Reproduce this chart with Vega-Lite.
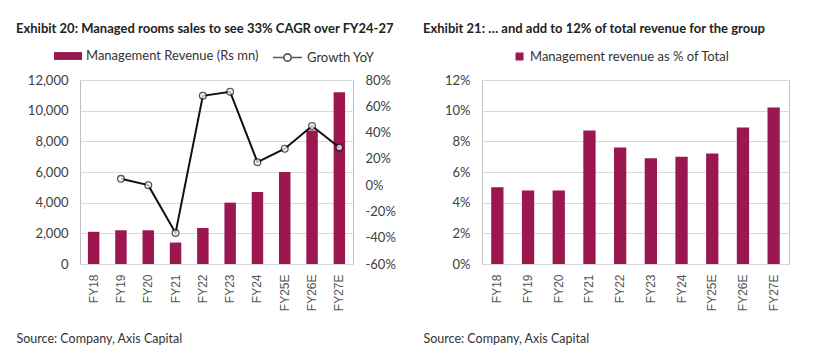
{
  "$schema": "https://vega.github.io/schema/vega-lite/v6.json",
  "background": "white",
  "padding": {"left": 15, "top": 22, "right": 5, "bottom": 5},
  "bounds": "flush",
  "spacing": 129,
  "datasets": {
    "rev": [
      {"FY": "FY18", "Revenue": 2100, "Growth": null},
      {"FY": "FY19", "Revenue": 2200, "Growth": 4.8},
      {"FY": "FY20", "Revenue": 2200, "Growth": 0},
      {"FY": "FY21", "Revenue": 1400, "Growth": -36.4},
      {"FY": "FY22", "Revenue": 2350, "Growth": 68},
      {"FY": "FY23", "Revenue": 4000, "Growth": 71},
      {"FY": "FY24", "Revenue": 4700, "Growth": 17.5},
      {"FY": "FY25E", "Revenue": 6000, "Growth": 27.7},
      {"FY": "FY26E", "Revenue": 8700, "Growth": 45},
      {"FY": "FY27E", "Revenue": 11200, "Growth": 28.7}
    ],
    "pct": [
      {"FY": "FY18", "Share": 5.0},
      {"FY": "FY19", "Share": 4.8},
      {"FY": "FY20", "Share": 4.8},
      {"FY": "FY21", "Share": 8.7},
      {"FY": "FY22", "Share": 7.6},
      {"FY": "FY23", "Share": 6.9},
      {"FY": "FY24", "Share": 7.0},
      {"FY": "FY25E", "Share": 7.2},
      {"FY": "FY26E", "Share": 8.9},
      {"FY": "FY27E", "Share": 10.2}
    ]
  },
  "resolve": {"scale": {"fill": "independent", "stroke": "independent"}, "legend": {"fill": "independent", "stroke": "independent"}},
  "hconcat": [
    {
      "width": 273,
      "height": 184,
      "title": {"text": "Exhibit 20: Managed rooms sales to see 33% CAGR over FY24-27", "anchor": "start", "frame": "bounds", "offset": 6},
      "data": {"name": "rev"},
      "encoding": {
        "x": {
          "field": "FY", "type": "nominal", "sort": null,
          "scale": {"paddingInner": 0.58, "paddingOuter": 0.29},
          "axis": {"title": "Source: Company, Axis Capital", "titleX": -64, "titleY": 74}
        }
      },
      "layer": [
        {
          "mark": {"type": "bar"},
          "encoding": {
            "y": {
              "field": "Revenue", "type": "quantitative",
              "scale": {"domain": [0, 12000]},
              "axis": {"values": [0, 2000, 4000, 6000, 8000, 10000, 12000], "labelExpr": "format(datum.value, ',')", "title": null}
            },
            "fill": {
              "datum": "Management Revenue (Rs mn)",
              "scale": {"range": ["#9a1750"]},
              "legend": {"orient": "none", "legendX": -26, "legendY": -38, "symbolType": "M-1,-0.28H1V0.28H-1Z", "symbolSize": 784, "symbolStrokeWidth": 0}
            }
          }
        },
        {
          "layer": [
            {
              "mark": {"type": "line", "strokeWidth": 2},
              "encoding": {
                "y": {"field": "Growth", "type": "quantitative"},
                "stroke": {
                  "datum": "Growth YoY",
                  "scale": {"range": ["#111111"]},
                  "legend": {
                    "orient": "none", "legendX": 192, "legendY": -38,
                    "symbolType": "M-1,0H-0.25A0.25,0.25 0 1,1 0.25,0A0.25,0.25 0 1,1 -0.25,0M0.25,0H1",
                    "symbolSize": 841,
                    "symbolStrokeWidth": 1.6,
                    "symbolFillColor": "white"
                  }
                }
              }
            },
            {
              "mark": {"type": "point", "filled": true, "fill": "white", "size": 45, "strokeWidth": 1.3},
              "encoding": {
                "y": {"field": "Growth", "type": "quantitative"},
                "stroke": {"datum": "Growth YoY"}
              }
            }
          ],
          "encoding": {
            "y": {
              "field": "Growth", "type": "quantitative",
              "scale": {"domain": [-60, 80]},
              "axis": {"orient": "right", "values": [-60, -40, -20, 0, 20, 40, 60, 80], "labelExpr": "datum.value + '%'", "grid": false, "title": null}
            }
          }
        }
      ],
      "resolve": {"scale": {"y": "independent"}}
    },
    {
      "width": 307,
      "height": 184,
      "title": {"text": "Exhibit 21: … and add to 12% of total revenue for the group", "anchor": "start", "frame": "bounds", "offset": 14},
      "data": {"name": "pct"},
      "mark": {"type": "bar"},
      "encoding": {
        "x": {
          "field": "FY", "type": "nominal", "sort": null,
          "scale": {"paddingInner": 0.6, "paddingOuter": 0.3},
          "axis": {"title": "Source: Company, Axis Capital", "titleX": -59, "titleY": 74}
        },
        "y": {
          "field": "Share", "type": "quantitative",
          "scale": {"domain": [0, 12]},
          "axis": {"values": [0, 2, 4, 6, 8, 10, 12], "labelExpr": "datum.value + '%'", "title": null}
        },
        "fill": {
          "datum": "Management revenue as % of Total",
          "scale": {"range": ["#9a1750"]},
          "legend": {"orient": "none", "legendX": 31, "legendY": -30, "symbolType": "square", "symbolSize": 64, "symbolStrokeWidth": 0}
        }
      }
    }
  ],
  "config": {
    "font": "Lato",
    "view": {"stroke": "#bfbfbf"},
    "title": {"font": "Lato", "fontSize": 13, "fontWeight": "bold", "color": "#222222"},
    "axis": {
      "domain": false,
      "ticks": false,
      "labelFont": "Lato",
      "labelFontSize": 13,
      "labelColor": "#404040",
      "labelPadding": 12,
      "gridColor": "#d9d9d9",
      "titleFont": "Lato",
      "titleFontSize": 12.5,
      "titleFontWeight": "normal",
      "titleColor": "#333333",
      "titleAlign": "left",
      "titleBaseline": "middle",
      "titleAngle": 0
    },
    "axisX": {
      "labelAngle": -90,
      "labelFont": "Liberation Sans",
      "labelFontSize": 12,
      "labelColor": "#555555",
      "labelPadding": 10,
      "grid": false
    },
    "legend": {
      "title": null,
      "labelFont": "Lato",
      "labelFontSize": 13,
      "labelLimit": 400,
      "labelColor": "#333333",
      "direction": "horizontal"
    }
  }
}
